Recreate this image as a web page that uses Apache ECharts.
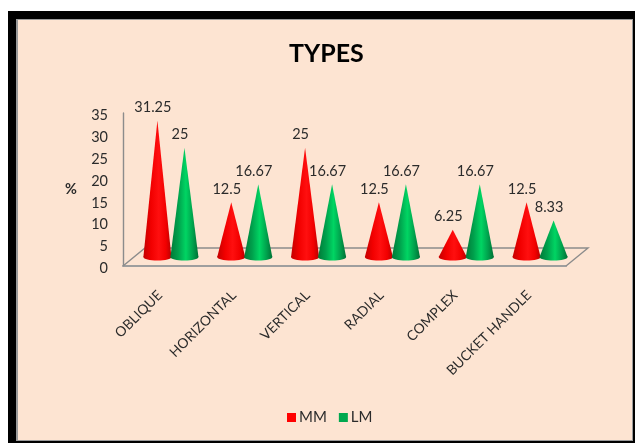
<!DOCTYPE html>
<html>
<head>
<meta charset="utf-8">
<style>html,body{margin:0;padding:0;background:#fff}#chart{width:635px;height:443px}</style>
<script src="https://cdn.jsdelivr.net/npm/echarts@6/dist/echarts.min.js"></script>
</head>
<body>
<div id="chart"></div>
<script>
const categories = ['OBLIQUE', 'HORIZONTAL', 'VERTICAL', 'RADIAL', 'COMPLEX', 'BUCKET HANDLE'];
const mmValues = [31.25, 12.5, 25, 12.5, 6.25, 12.5];
const lmValues = [25, 16.67, 16.67, 16.67, 16.67, 8.33];

const FONT = 'Lato, "Open Sans", sans-serif';
const TEXT = '#2b2b2b';
const FLOOR = '#8c8c8c';
// Oblique floor depth in pixels; cones stand halfway across it.
const DEPTH_X = 22, DEPTH_Y = 18;

function coneGradient(edgeL, mid, glow, edgeR) {
  return new echarts.graphic.LinearGradient(0, 0, 1, 0, [
    { offset: 0, color: edgeL }, { offset: 0.28, color: mid },
    { offset: 0.55, color: glow }, { offset: 0.8, color: mid },
    { offset: 1, color: edgeR }
  ]);
}
const redFill = coneGradient('#c40000', '#f20000', '#ff0f0f', '#b80000');
const greenFill = coneGradient('#007a38', '#00a04c', '#00d563', '#007035');

function coneRenderer(side, fill) {
  return function (params, api) {
    const cat = api.value(0), val = api.value(1);
    const band = api.size([1, 0])[0];
    const base = api.coord([cat, 0]);
    const tip = api.coord([cat, val]);
    const cx = base[0] + DEPTH_X / 2 + side * band * 0.183;
    const by = base[1] - DEPTH_Y / 2;
    const ty = tip[1] - DEPTH_Y / 2;
    const hw = band * 0.19;
    return {
      type: 'group',
      children: [
        { type: 'ellipse', shape: { cx: cx, cy: by, rx: hw, ry: 3.6 }, style: { fill: fill } },
        { type: 'polygon', shape: { points: [[cx, ty], [cx - hw, by], [cx + hw, by]] }, style: { fill: fill } },
        {
          type: 'text',
          style: {
            x: cx - 4.5, y: ty - 13, text: String(val), fill: TEXT,
            font: '14.5px ' + FONT, textAlign: 'center', textVerticalAlign: 'middle'
          }
        }
      ]
    };
  };
}

function floorRenderer(params, api) {
  const g = params.coordSys;
  const l = g.x, r = g.x + g.width, b = g.y + g.height;
  return {
    type: 'group',
    children: [
      {
        type: 'polyline',
        shape: { points: [[l, b], [l + DEPTH_X, b - DEPTH_Y], [r + DEPTH_X, b - DEPTH_Y], [r, b]] },
        style: { stroke: FLOOR, lineWidth: 1.4, fill: null }
      }
    ]
  };
}

const chart = echarts.init(document.getElementById('chart'), null, { renderer: 'canvas' });
chart.setOption({
  animation: false,
  backgroundColor: '#ffffff',
  graphic: [
    { type: 'rect', z: -10, shape: { x: 8, y: 11, width: 627, height: 432 }, style: { fill: '#000000' } },
    { type: 'rect', z: -9, shape: { x: 16, y: 19, width: 617, height: 422 }, style: { fill: '#9a9a9a' } },
    { type: 'rect', z: -8, shape: { x: 18, y: 20, width: 614, height: 420 }, style: { fill: '#fde4d2' } }
  ],
  title: {
    text: 'TYPES', left: 284, top: 36,
    textStyle: { fontFamily: FONT, fontSize: 25, fontWeight: 'bold', color: '#000000' }
  },
  legend: {
    data: ['MM', 'LM'], left: 282, top: 405, icon: 'rect',
    itemWidth: 9, itemHeight: 9, itemGap: 12,
    textStyle: { fontFamily: FONT, fontSize: 15, color: TEXT, padding: [0, 0, 0, -2] }
  },
  grid: { left: 123, top: 113, width: 443, height: 153, containLabel: false },
  xAxis: {
    type: 'category', data: categories,
    axisTick: { show: false },
    axisLine: { lineStyle: { color: '#9e9e9e', width: 2 } },
    axisLabel: { rotate: 45, interval: 0, margin: 27, fontFamily: FONT, fontSize: 13.8, color: TEXT }
  },
  yAxis: {
    type: 'value', min: 0, max: 35, interval: 5,
    name: '%', nameLocation: 'middle', nameGap: 46, nameRotate: 0,
    nameTextStyle: { fontFamily: FONT, fontSize: 14.5, fontWeight: 'bold', color: TEXT },
    splitLine: { show: false },
    axisTick: { show: false },
    axisLine: { show: true, lineStyle: { color: FLOOR, width: 1.4 } },
    axisLabel: { margin: 15, verticalAlign: 'top', lineHeight: 5, fontFamily: FONT, fontSize: 14.5, color: TEXT }
  },
  series: [
    { type: 'custom', name: 'floor', silent: true, z: 1, data: [[0, 0]], encode: { x: 0, y: 1 }, renderItem: floorRenderer },
    { type: 'custom', name: 'MM', z: 2, itemStyle: { color: '#ff0000' }, data: mmValues.map((v, i) => [i, v]), encode: { x: 0, y: 1 }, renderItem: coneRenderer(-1, redFill) },
    { type: 'custom', name: 'LM', z: 3, itemStyle: { color: '#00a84f' }, data: lmValues.map((v, i) => [i, v]), encode: { x: 0, y: 1 }, renderItem: coneRenderer(1, greenFill) }
  ]
});
</script>
</body>
</html>
